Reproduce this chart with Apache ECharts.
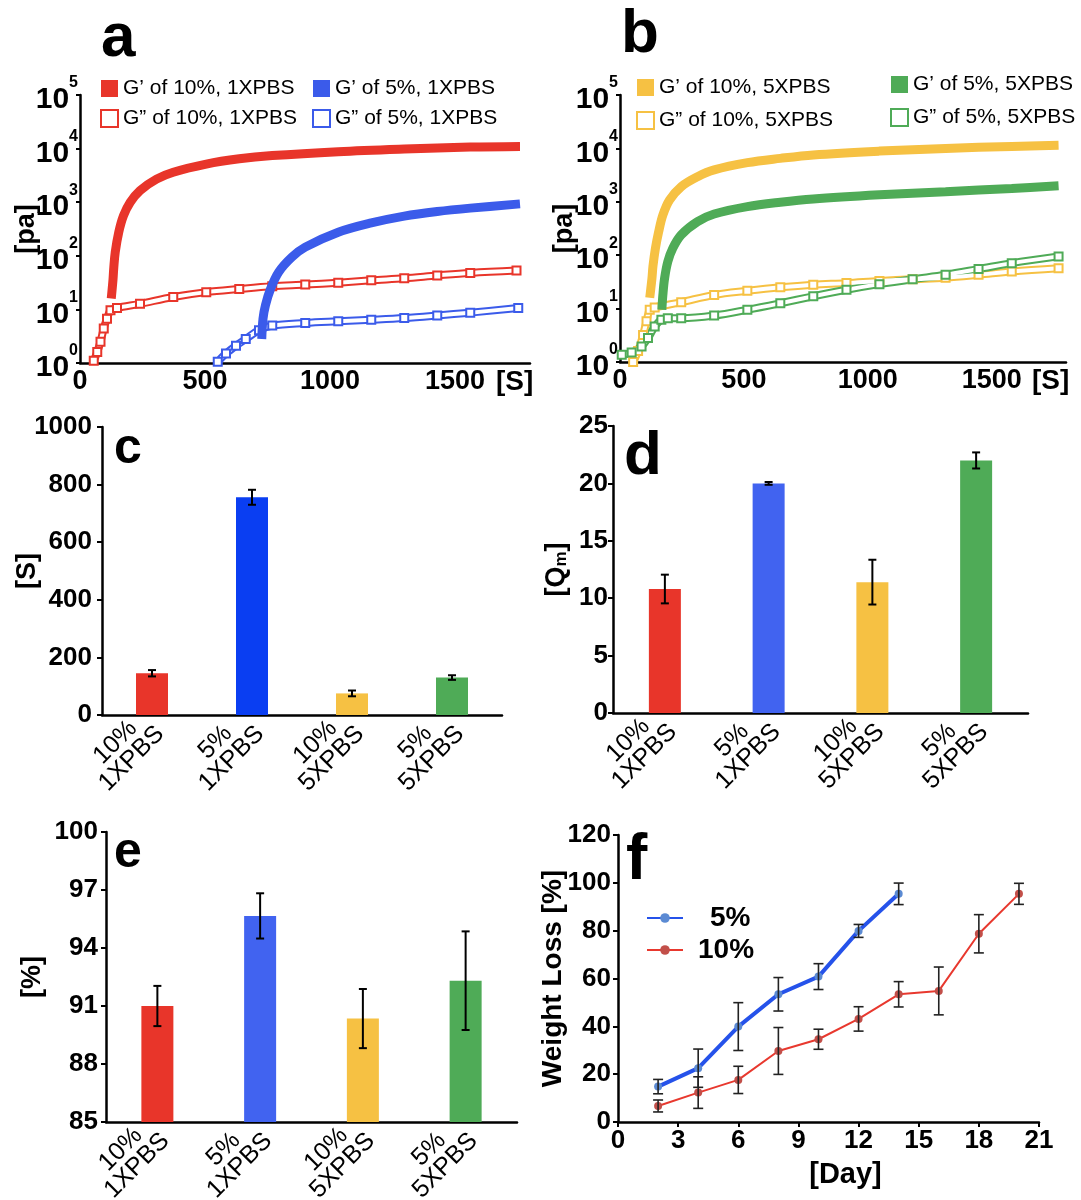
<!DOCTYPE html>
<html>
<head>
<meta charset="utf-8">
<title>Gel rheology, gelation time, swelling, water content and degradation</title>
<script src="https://cdn.jsdelivr.net/npm/echarts@6.0.0/dist/echarts.min.js"></script>
<style>
  html, body { margin: 0; padding: 0; background: #fff; }
  #chart { width: 1081px; height: 1200px; }
</style>
</head>
<body>
<div id="chart"></div>
<script>
// ---- values ----
// a: time [s] vs modulus [Pa], 1X PBS
var a10Gp  = [[125,16],[132,36],[135,59],[141,117],[155,275],[174,560],[201,1000],[240,1650],[306,2700],[373,3630],[505,5150],[637,6450],[769,7400],[1033,8750],[1297,9800],[1561,10700],[1760,11000]];
var a10Gpp = [[55,1.1],[69,1.6],[82,2.5],[95,4.4],[108,6.7],[122,9.6],[148,10.6],[240,12.7],[373,17],[505,21],[637,24],[769,27],[901,29],[1033,31.5],[1165,35],[1297,38],[1429,43],[1561,48],[1746,53]];
var a5Gp   = [[727,2.8],[732,6.7],[742,12],[762,24],[795,50],[848,95],[901,145],[1033,275],[1165,410],[1297,550],[1429,670],[1561,775],[1760,930]];
var a5Gpp  = [[551,1.05],[584,1.5],[624,2.1],[663,2.8],[716,4.1],[769,5.0],[901,5.6],[1033,6.0],[1165,6.4],[1297,6.9],[1429,7.7],[1561,8.7],[1753,10.6]];

// b: time [s] vs modulus [Pa], 5X PBS
var b10Gp  = [[120,16],[129,37],[133,62],[143,135],[156,275],[173,565],[200,1080],[247,1920],[313,2950],[380,3960],[514,5400],[647,6500],[780,7550],[1047,8900],[1314,10000],[1581,10900],[1770,11500]];
var b10Gpp = [[53,1.0],[73,1.6],[93,3.2],[107,5.8],[120,9.5],[140,10.5],[247,13.2],[380,18],[514,21.5],[647,25],[780,28],[914,30],[1047,33],[1181,35.5],[1314,38],[1447,43],[1581,49.5],[1770,57]];
var b5Gp   = [[169,9.5],[173,18],[180,37],[193,76],[213,135],[247,240],[313,425],[380,590],[514,810],[647,980],[780,1130],[1047,1350],[1314,1550],[1581,1780],[1770,2000]];
var b5Gpp  = [[7,1.37],[47,1.5],[87,1.96],[113,2.8],[140,4.6],[167,6.2],[193,6.6],[247,6.6],[380,7.4],[514,9.5],[647,12.6],[780,17],[914,22.5],[1047,28.7],[1181,35.5],[1314,43],[1447,55],[1581,71],[1770,95]];

// c, d, e: bar groups
var groups      = ['10%\n1XPBS', '5%\n1XPBS', '10%\n5XPBS', '5%\n5XPBS'];
var gelTime     = [145, 756, 75, 130];
var gelTimeErr  = [11, 26, 10, 8];
var swelling    = [10.8, 20.0, 11.4, 22.0];
var swellingErr = [1.25, 0.12, 1.95, 0.7];
var water       = [91.0, 95.66, 90.35, 92.31];
var waterErr    = [1.04, 1.17, 1.53, 2.55];
var waterTicks  = [85, 88, 91, 94, 97, 100];

// f: degradation
var days5     = [2, 4, 6, 8, 10, 12, 14];
var loss5     = [14.8, 22.5, 39.9, 53.4, 60.8, 79.9, 95.4];
var loss5Err  = [3, 8, 10, 7, 5.4, 2.7, 4.5];
var days10    = [2, 4, 6, 8, 10, 12, 14, 16, 18, 20];
var loss10    = [6.7, 12.3, 17.6, 29.7, 34.6, 43.1, 53.4, 54.8, 78.7, 95.4];
var loss10Err = [2.5, 6.6, 5.7, 9.8, 4.2, 5.1, 5.3, 10, 8, 4.4];

var RED = '#e8352a', BLUE = '#3b5bea', YELLOW = '#f6c143', GREEN = '#4fab57';
var barColorsC  = [RED, '#0a3ef2', YELLOW, GREEN];
var barColorsDE = [RED, '#4163f0', YELLOW, GREEN];

var BOLD = "'Liberation Sans', Arial, sans-serif";
var SANS = "'Liberation Sans', Arial, sans-serif";

var chart = echarts.init(document.getElementById('chart'));

function tickFont(size) {
  return { fontSize: size, fontWeight: 'bold', fontFamily: BOLD, color: '#000' };
}
function plain(v) { return String(v); }
var axisLine = { show: true, lineStyle: { color: '#000', width: 2.5 } };

function logYAxis(gi, gap) {
  return {
    gridIndex: gi, type: 'log', logBase: 10, min: 1, max: 100000,
    name: '[pa]', nameLocation: 'middle', nameGap: gap, nameMoveOverlap: false,
    nameTextStyle: tickFont(27),
    axisLine: axisLine, splitLine: { show: false },
    axisTick: { show: true, length: 4, lineStyle: { color: '#000', width: 2 } },
    axisLabel: {
      margin: 2,
      formatter: function (v) { return '{b|10}{s|' + Math.round(Math.log10(v)) + '}'; },
      rich: {
        // the exponent sits over the right edge of "10"
        b: { fontSize: 30, width: 26, fontWeight: 'bold', fontFamily: BOLD, color: '#000', verticalAlign: 'bottom', padding: [10, 0, 0, 0] },
        s: { fontSize: 16, fontWeight: 'bold', fontFamily: BOLD, color: '#000', verticalAlign: 'top' }
      }
    }
  };
}
function timeXAxis(gi) {
  return {
    gridIndex: gi, type: 'value', min: 0, max: 1800, interval: 500,
    name: '[S]', nameLocation: 'end', nameGap: -34, nameMoveOverlap: false,
    nameTextStyle: Object.assign(tickFont(28), { verticalAlign: 'top', padding: [5, 0, 0, 0] }),
    axisLine: axisLine, splitLine: { show: false }, axisTick: { show: false },
    axisLabel: Object.assign(tickFont(27), { margin: 5, showMaxLabel: false, formatter: plain })
  };
}
function catXAxis(gi) {
  return {
    gridIndex: gi, type: 'category', data: groups,
    axisLine: axisLine, axisTick: { show: false },
    axisLabel: {
      interval: 0, rotate: 45, margin: 7, fontSize: 25, fontFamily: SANS, color: '#000',
      formatter: function (v) { var p = v.split('\n'); return '{t|' + p[0] + '}\n{t|' + p[1] + '}'; },
      rich: { t: { fontSize: 25, fontFamily: SANS, color: '#000', align: 'center', lineHeight: 23 } }
    }
  };
}
function valYAxis(gi, margin, opt) {
  return Object.assign({
    gridIndex: gi, type: 'value', nameLocation: 'middle', nameMoveOverlap: false,
    nameTextStyle: tickFont(27),
    axisLine: axisLine, splitLine: { show: false },
    axisTick: { show: true, length: 5, lineStyle: { color: '#000', width: 2 } },
    axisLabel: Object.assign(tickFont(26), { margin: margin, formatter: plain })
  }, opt);
}

// closed squares: drawn as a thick band through the read points
function filled(name, data, color, gi) {
  return {
    name: name, type: 'line', xAxisIndex: gi, yAxisIndex: gi, data: data,
    smooth: 0.35, symbol: 'none',
    lineStyle: { color: color, width: 9 }, itemStyle: { color: color }, z: 4
  };
}
// open squares: a coloured band with a white core, squares on the read points
function hollow(name, data, color, gi) {
  return [{
    name: name + ' band', type: 'line', xAxisIndex: gi, yAxisIndex: gi, data: data,
    smooth: 0.35, symbol: 'none',
    lineStyle: { color: color, width: 8 }, z: 2
  }, {
    name: name, type: 'line', xAxisIndex: gi, yAxisIndex: gi, data: data,
    smooth: 0.35, symbol: 'emptyRect', symbolSize: 8, showAllSymbol: true,
    lineStyle: { color: '#fff', width: 4 }, itemStyle: { color: color, borderWidth: 1.5 }, z: 3
  }];
}

function errorBars(gi, data, capHalf, lw, color) {
  return {
    type: 'custom', xAxisIndex: gi, yAxisIndex: gi, data: data, z: 10, clip: false,
    renderItem: function (params, api) {
      var x = api.value(0), y = api.value(1), e = api.value(2);
      var hi = api.coord([x, y + e]), lo = api.coord([x, y - e]);
      var st = { stroke: color, lineWidth: lw };
      return {
        type: 'group', children: [
          { type: 'line', shape: { x1: hi[0], y1: hi[1], x2: lo[0], y2: lo[1] }, style: st },
          { type: 'line', shape: { x1: hi[0] - capHalf, y1: hi[1], x2: hi[0] + capHalf, y2: hi[1] }, style: st },
          { type: 'line', shape: { x1: lo[0] - capHalf, y1: lo[1], x2: lo[0] + capHalf, y2: lo[1] }, style: st }
        ]
      };
    }
  };
}
function bars(gi, values, colors) {
  return {
    type: 'bar', xAxisIndex: gi, yAxisIndex: gi, barWidth: 32,
    data: values.map(function (v, i) { return { value: v, itemStyle: { color: colors[i] } }; })
  };
}
function withErr(values, errs) {
  return values.map(function (v, i) { return [i, v, errs[i]]; });
}

var N = {
  a10Gp: 'G\u2019 of 10%, 1XPBS', a10Gpp: 'G\u201D of 10%, 1XPBS',
  a5Gp: 'G\u2019 of 5%, 1XPBS', a5Gpp: 'G\u201D of 5%, 1XPBS',
  b10Gp: 'G\u2019 of 10%, 5XPBS', b10Gpp: 'G\u201D of 10%, 5XPBS',
  b5Gp: 'G\u2019 of 5%, 5XPBS', b5Gpp: 'G\u201D of 5%, 5XPBS'
};
function solidKey(name, color) { return { name: name, icon: 'rect', itemStyle: { color: color, borderWidth: 0 } }; }
function openKey(name, color) { return { name: name, icon: 'rect', itemStyle: { color: '#fff', borderColor: color, borderWidth: 2 } }; }
function keyBlock(left, top, gap, items) {
  return {
    left: left, top: top, orient: 'vertical', itemWidth: 17, itemHeight: 17, itemGap: gap,
    selectedMode: false, padding: 0,
    textStyle: { fontSize: 21, fontFamily: SANS, color: '#000' },
    data: items
  };
}
function letter(t, left, top, size) {
  return { text: t, left: left, top: top, padding: 0,
    textStyle: { fontSize: size, fontWeight: 'bold', fontFamily: SANS, color: '#000' } };
}
function box(left, top, width, height) {
  return { left: left, top: top, width: width, height: height, outerBoundsMode: 'none', containLabel: false };
}

var series = [].concat(
  hollow(N.a10Gpp, a10Gpp, RED, 0), hollow(N.a5Gpp, a5Gpp, BLUE, 0),
  [filled(N.a10Gp, a10Gp, RED, 0), filled(N.a5Gp, a5Gp, BLUE, 0)],
  hollow(N.b10Gpp, b10Gpp, YELLOW, 1), hollow(N.b5Gpp, b5Gpp, GREEN, 1),
  [filled(N.b10Gp, b10Gp, YELLOW, 1), filled(N.b5Gp, b5Gp, GREEN, 1)],
  [bars(2, gelTime, barColorsC), errorBars(2, withErr(gelTime, gelTimeErr), 4, 2, '#000')],
  [bars(3, swelling, barColorsDE), errorBars(3, withErr(swelling, swellingErr), 4, 2, '#000')],
  [bars(4, water, barColorsDE), errorBars(4, withErr(water, waterErr), 4, 2, '#000')],
  [{
    name: '5%', type: 'line', xAxisIndex: 5, yAxisIndex: 5, z: 4,
    data: days5.map(function (d, i) { return [d, loss5[i]]; }),
    symbol: 'circle', symbolSize: 8, lineStyle: { color: '#2552ea', width: 4 }, itemStyle: { color: '#5b8ad3' }
  }, {
    name: '10%', type: 'line', xAxisIndex: 5, yAxisIndex: 5, z: 4,
    data: days10.map(function (d, i) { return [d, loss10[i]]; }),
    symbol: 'circle', symbolSize: 8, lineStyle: { color: '#e8382e', width: 2 }, itemStyle: { color: '#c24f49' }
  },
  errorBars(5, days5.map(function (d, i) { return [d, loss5[i], loss5Err[i]]; }), 5, 1.6, '#222'),
  errorBars(5, days10.map(function (d, i) { return [d, loss10[i], loss10Err[i]]; }), 5, 1.6, '#222')]
);

chart.setOption({
  backgroundColor: '#fff',
  animation: false,
  title: [
    letter('a', 101, 8, 62), letter('b', 621, 4, 62),
    letter('c', 114, 424, 50), letter('d', 624, 426, 62),
    letter('e', 114, 828, 50), letter('f', 626, 829, 64)
  ],
  legend: [
    keyBlock(100, 78, 9, [solidKey(N.a10Gp, RED), openKey(N.a10Gpp, RED)]),
    keyBlock(312, 78, 9, [solidKey(N.a5Gp, BLUE), openKey(N.a5Gpp, BLUE)]),
    keyBlock(636, 77, 12, [solidKey(N.b10Gp, YELLOW), openKey(N.b10Gpp, YELLOW)]),
    keyBlock(890, 74, 12, [solidKey(N.b5Gp, GREEN), openKey(N.b5Gpp, GREEN)]),
    {
      left: 646, top: 904, orient: 'vertical', itemWidth: 36, itemHeight: 12, itemGap: 4,
      selectedMode: false, padding: 0,
      textStyle: { fontSize: 28, fontWeight: 'bold', fontFamily: BOLD, color: '#000', padding: [0, 0, 0, 10] },
      data: [{ name: '5%', textStyle: { padding: [0, 0, 0, 22] } }, { name: '10%' }]
    }
  ],
  grid: [
    box(80, 95, 450, 268),
    box(620, 95, 446, 267),
    box(102, 427, 400, 288),
    box(613, 426, 415, 287),
    box(106, 832, 411, 290),
    box(618, 835, 421, 287)
  ],
  xAxis: [
    timeXAxis(0), timeXAxis(1), catXAxis(2), catXAxis(3), catXAxis(4),
    {
      gridIndex: 5, type: 'value', min: 0, max: 21, interval: 3,
      name: '[Day]', nameLocation: 'middle', nameGap: 38, nameMoveOverlap: false,
      nameTextStyle: Object.assign(tickFont(29), { padding: [0, 0, 0, 34] }),
      axisLine: axisLine, splitLine: { show: false },
      axisTick: { show: true, length: 5, lineStyle: { color: '#000', width: 2 } },
      axisLabel: Object.assign(tickFont(26), { margin: 6 })
    }
  ],
  yAxis: [
    logYAxis(0, 40),
    logYAxis(1, 42),
    valYAxis(2, 10, { min: 0, max: 1000, interval: 200, name: '[S]', nameGap: 61 }),
    valYAxis(3, 5, {
      min: 0, max: 25, interval: 5, name: '[{q|Q}{m|m}]', nameGap: 43,
      nameTextStyle: Object.assign(tickFont(27), { rich: {
        q: tickFont(27),
        m: Object.assign(tickFont(17), { verticalAlign: 'bottom', padding: [10, 0, 0, 0] })
      } })
    }),
    valYAxis(4, 8, {
      min: 85, max: 100, name: '[%]', nameGap: 60,
      axisTick: { show: true, length: 5, customValues: waterTicks, lineStyle: { color: '#000', width: 2 } },
      axisLabel: Object.assign(tickFont(26), { margin: 8, customValues: waterTicks, formatter: plain })
    }),
    valYAxis(5, 7, { min: 0, max: 120, interval: 20, name: 'Weight Loss [%]', nameGap: 51, nameTextStyle: tickFont(28) })
  ],
  series: series
});
</script>
</body>
</html>
